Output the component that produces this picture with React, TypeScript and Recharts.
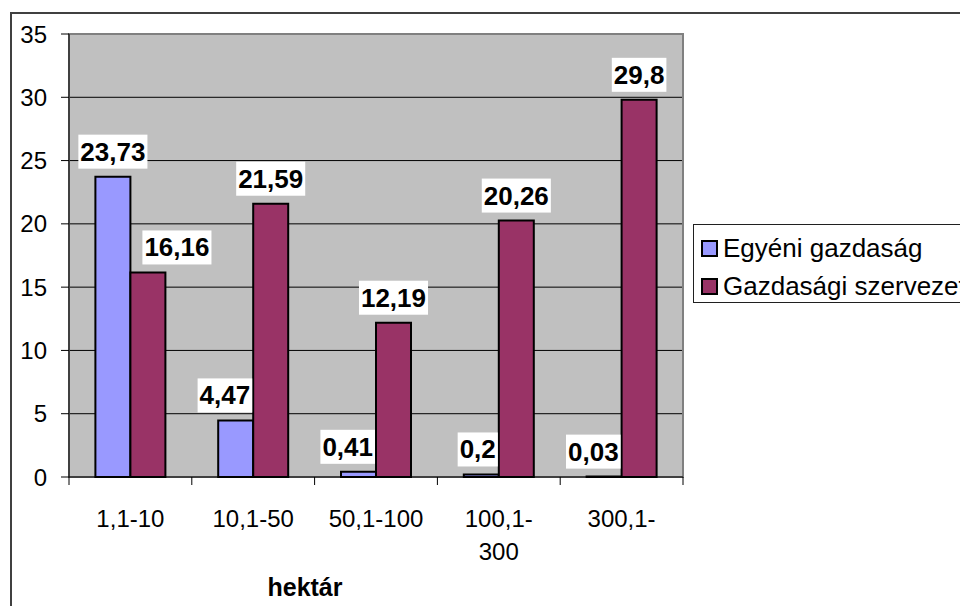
import { Bar, BarChart, CartesianGrid, LabelList, ReferenceArea, XAxis, YAxis } from 'recharts'

const categories = ['1,1-10', '10,1-50', '50,1-100', '100,1-300', '300,1-']
const egyeni = [23.73, 4.47, 0.41, 0.2, 0.03]
const szervezet = [16.16, 21.59, 12.19, 20.26, 29.8]
const yTicks = [0, 5, 10, 15, 20, 25, 30, 35]
const seriesNames = ['Egyéni gazdaság', 'Gazdasági szervezet']
const seriesColors = ['#9999FF', '#993366']

const FONT = '"Liberation Sans", Arial, sans-serif'

const data = categories.map((name, i) => ({ name, egyeni: egyeni[i], szervezet: szervezet[i] }))

function fmt(v: number): string {
  return String(v).replace('.', ',')
}

function textWidth(s: string, size: number): number {
  let w = 0
  for (const ch of s) w += ch === ',' ? 0.278 : 0.556
  return w * size
}

// Excel-style category axis: tick marks sit between categories, labels in the middle
function CategoryTick(props: any) {
  const { x, y, payload, index } = props
  const label: string = payload.value
  const cut = label.indexOf('-') + 1
  const lines = label.length > 8 ? [label.slice(0, cut), label.slice(cut)] : [label]
  const half = payload.offset ?? 0
  return (
    <g>
      <line x1={x - half} x2={x - half} y1={y} y2={y + 8} stroke="#000" />
      {index === categories.length - 1 && <line x1={x + half} x2={x + half} y1={y} y2={y + 8} stroke="#000" />}
      <text x={x} y={y} textAnchor="middle" fontSize={24} fontFamily={FONT} fill="#000">
        {lines.map((line, i) => (
          <tspan key={i} x={x} dy={i === 0 ? 50 : 33}>
            {line}
          </tspan>
        ))}
      </text>
    </g>
  )
}

function makeLabel(own: number[], other: number[], side: 'left' | 'right') {
  return (props: any) => {
    const { x, y, width, index } = props
    const text = fmt(own[index])
    const w = textWidth(text, 26) + 4
    const h = 34
    let cx = x + width / 2
    if (other[index] > own[index]) {
      cx = side === 'left' ? x + width - 1 - w / 2 : x + 12 + w / 2
    }
    const bottom = y - 8
    return (
      <g>
        <rect x={cx - w / 2} y={bottom - h} width={w} height={h} fill="#fff" />
        <text x={cx} y={bottom - h / 2 + 9} textAnchor="middle" fontSize={26} fontWeight="bold" fontFamily={FONT} fill="#000">
          {text}
        </text>
      </g>
    )
  }
}

function TitleLabel(p: any) {
  const vb = p.viewBox
  return (
    <text x={vb.x + vb.width / 2 - 71} y={588} textAnchor="middle" fontSize={25} fontWeight="bold" fontFamily={FONT} fill="#000">
      hektár
    </text>
  )
}

export default function App() {
  return (
    <div style={{ position: 'relative', width: 960, height: 598, overflow: 'hidden', background: '#fff', fontFamily: FONT }}>
      <div
        style={{
          position: 'absolute',
          left: 2,
          top: 4,
          width: 1200,
          height: 1000,
          border: '2px solid #404040',
        }}
      />
      <div style={{ position: 'absolute', left: 0, top: 0 }}>
        <BarChart
          width={960}
          height={598}
          data={data}
          margin={{ top: 26, right: 285, left: 0, bottom: 128 }}
          barCategoryGap="21.5%"
          barGap={0}
        >
          <CartesianGrid vertical={false} stroke="#000" fill="#C0C0C0" fillOpacity={1} />
          <ReferenceArea y1={0} y2={35} fill="none" stroke="#808080" strokeWidth={2} />
          <YAxis
            domain={[0, 35]}
            ticks={yTicks}
            width={61}
            tickSize={8}
            tickMargin={14}
            axisLine={{ stroke: '#000' }}
            tickLine={{ stroke: '#000' }}
            tick={{ fontSize: 24, fill: '#000', fontFamily: FONT }}
            interval={0}
          />
          <XAxis
            dataKey="name"
            height={1}
            axisLine={{ stroke: '#000' }}
            tickLine={false}
            tickSize={0}
            tickMargin={0}
            tick={<CategoryTick />}
            interval={0}
            label={<TitleLabel />}
          />
          <Bar dataKey="egyeni" name={seriesNames[0]} fill={seriesColors[0]} stroke="#000" strokeWidth={2} isAnimationActive={false}>
            <LabelList dataKey="egyeni" content={makeLabel(egyeni, szervezet, 'left')} />
          </Bar>
          <Bar dataKey="szervezet" name={seriesNames[1]} fill={seriesColors[1]} stroke="#000" strokeWidth={2} isAnimationActive={false}>
            <LabelList dataKey="szervezet" content={makeLabel(szervezet, egyeni, 'right')} />
          </Bar>
        </BarChart>
      </div>
      <div
        style={{
          position: 'absolute',
          left: 685,
          top: 216,
          width: 400,
          height: 77,
          border: '1px solid #202020',
          background: '#fff',
        }}
      >
        {seriesNames.map((name, i) => (
          <div
            key={name}
            style={{ position: 'absolute', left: 7, top: 4 + i * 38, height: 38, display: 'flex', alignItems: 'center', whiteSpace: 'nowrap' }}
          >
            <span
              style={{
                display: 'inline-block',
                width: 17,
                height: 17,
                boxSizing: 'border-box',
                border: '2px solid #000',
                background: seriesColors[i],
                marginRight: 5,
              }}
            />
            <span style={{ fontSize: 26, color: '#000', lineHeight: '38px' }}>{name}</span>
          </div>
        ))}
      </div>
    </div>
  )
}
